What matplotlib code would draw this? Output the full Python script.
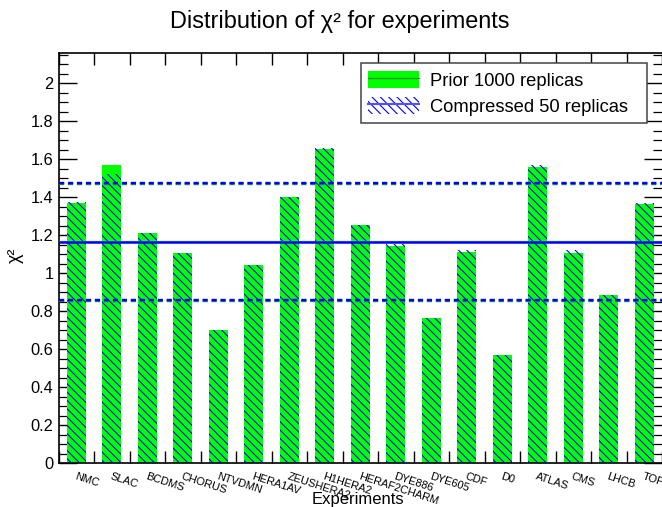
import numpy as np
import matplotlib
matplotlib.use('Agg')
import matplotlib.pyplot as plt
from matplotlib.patches import Patch
from matplotlib.lines import Line2D
from matplotlib.ticker import MultipleLocator, FuncFormatter

cats = ['NMC', 'SLAC', 'BCDMS', 'CHORUS', 'NTVDMN', 'HERA1AV', 'ZEUSHERA2', 'H1HERA2',
        'HERAF2CHARM', 'DYE886', 'DYE605', 'CDF', 'D0', 'ATLAS', 'CMS', 'LHCB', 'TOP']
prior = [1.367, 1.569, 1.211, 1.107, 0.700, 1.043, 1.401, 1.653, 1.253, 1.144, 0.764,
         1.111, 0.569, 1.560, 1.106, 0.885, 1.366]
comp = [1.373, 1.522, 1.212, 1.108, 0.700, 1.044, 1.402, 1.660, 1.255, 1.152, 0.764,
        1.120, 0.569, 1.569, 1.122, 0.883, 1.368]
prior_mean = 1.171
prior_band = [0.855, 1.470]
comp_mean = 1.165
comp_band = [0.857, 1.476]

plt.rcParams['font.family'] = ['Liberation Sans', 'DejaVu Sans']
plt.rcParams['hatch.linewidth'] = 0.8

fig = plt.figure(figsize=(6.62, 5.07), dpi=100)
ax = fig.add_axes([58.5 / 662, 44 / 507, (662 - 58.5) / 662, 409.7 / 507])

HATCH = '\\\\\\\\'
x = np.arange(len(cats)) + 0.5
ax.bar(x, prior, width=0.54, color='#00ff00', lw=0, zorder=2)
ax.bar(x, comp, width=0.54, facecolor='none', edgecolor='blue', hatch=HATCH, lw=0, zorder=3)

ax.axhline(prior_mean, color='#80dc80', lw=1.0, zorder=4)
ax.axhline(comp_mean, color='blue', lw=1.8, zorder=5)
for v in prior_band:
    ax.axhline(v, color='#1a8a4a', lw=1.7, ls=(0, (2.2, 1.6)), zorder=4)
for v in comp_band:
    ax.axhline(v, color='blue', lw=1.7, ls=(0, (2.2, 1.6)), zorder=5)

ax.set_xlim(0, len(cats))
ax.set_ylim(0, 2.157)

ax.xaxis.set_major_locator(MultipleLocator(1))
ax.tick_params(axis='x', which='major', direction='in', length=8.6, width=1,
               top=True, bottom=True, labelbottom=False)
ax.set_xticks(x, minor=True)
ax.set_xticklabels(cats, minor=True, rotation=-18, ha='left', va='top',
                   rotation_mode='anchor', fontsize=7.9)
ax.tick_params(axis='x', which='minor', length=0, pad=6, top=False)

ax.yaxis.set_major_locator(MultipleLocator(0.2))
ax.yaxis.set_minor_locator(MultipleLocator(0.05))
ax.yaxis.set_major_formatter(FuncFormatter(lambda v, p: '%g' % round(v, 2)))
ax.tick_params(axis='y', which='major', direction='in', length=13, width=1,
               left=True, right=True, labelsize=11.8, pad=3.7)
ax.tick_params(axis='y', which='minor', direction='in', length=6.5, width=0.9,
               left=True, right=True)
for s in ax.spines.values():
    s.set_linewidth(1.2)
ax.spines['right'].set_visible(False)

h1 = (Patch(facecolor='#00ff00', edgecolor='none'), Line2D([], [], color='#1a9a1a', lw=1))
h2 = (Patch(facecolor='none', edgecolor='blue', hatch=HATCH, lw=0),
      Line2D([], [], color='#5050ff', lw=1.5))
leg = ax.legend([h1, h2], ['Prior 1000 replicas', 'Compressed 50 replicas'],
                loc='upper left', bbox_to_anchor=(0.501, 0.839, 0.474, 0.1366),
                mode='expand', borderaxespad=0, fontsize=13.2, handlelength=2.79,
                handleheight=1.09, handletextpad=0.6, labelspacing=0.38,
                borderpad=0.4, fancybox=False, framealpha=1)
leg.get_frame().set_edgecolor('#444444')
leg.get_frame().set_linewidth(1.1)
leg.set_zorder(10)

fig.text(340 / 662, 1 - 28 / 507, 'Distribution of χ² for experiments',
         ha='center', va='baseline', fontsize=16.9)
ax.text(-0.072, 0.508, 'χ²', transform=ax.transAxes, rotation=90,
        ha='center', va='center', fontsize=13)
ax.text(0.496, -0.09, 'Experiments', transform=ax.transAxes,
        ha='center', va='center', fontsize=12)

fig.savefig('out.png', dpi=100)
